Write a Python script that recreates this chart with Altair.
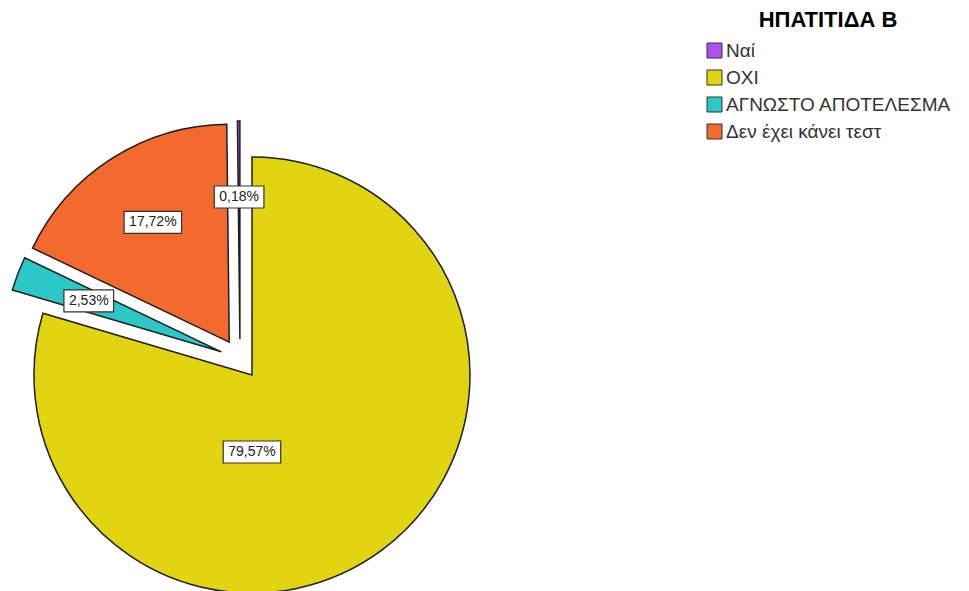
import altair as alt
import pandas as pd

categories = ["Ναί", "ΟΧΙ", "ΑΓΝΩΣΤΟ ΑΠΟΤΕΛΕΣΜΑ", "Δεν έχει κάνει τεστ"]
percents = [0.18, 79.57, 2.53, 17.72]
colors = ["#B04FEF", "#E1D410", "#2CC8C8", "#F26A2D"]
# clockwise drawing position of each category, starting at 12 o'clock
pie_order = [3, 0, 1, 2]

df = pd.DataFrame({"cat": categories, "pct": percents, "ord": pie_order})

CX, CY, R, EXPLODE = 232, 351, 218, 20
FS, PAD, BH = 14, 5, 22

base = (
    alt.Chart(df)
    .transform_joinaggregate(total="sum(pct)")
    .transform_window(cum="sum(pct)", sort=[alt.SortField("ord", order="ascending")], frame=[None, 0])
    .transform_calculate(
        t1="datum.cum / datum.total * 2 * PI",
        t0="(datum.cum - datum.pct) / datum.total * 2 * PI",
    )
    .transform_calculate(mid="(datum.t0 + datum.t1) / 2")
    .transform_calculate(
        cx=f"{CX} + {EXPLODE} * sin(datum.mid)",
        cy=f"{CY} - {EXPLODE} * cos(datum.mid)",
        la="datum.pct / datum.total > 0.5 ? PI : datum.mid",
        ld="datum.pct / datum.total > 0.5 ? 77 : 142",
    )
    .transform_calculate(
        lx="datum.cx + datum.ld * sin(datum.la)",
        ly="datum.cy - datum.ld * cos(datum.la)",
        lbl="replace(format(datum.pct, '.2f'), '.', ',') + '%'",
    )
    .transform_calculate(
        bw=f"(length(datum.lbl) - 2) * 0.556 * {FS} + 1.167 * {FS} + 2 * {PAD}",
    )
    .transform_calculate(
        bx0="datum.lx - datum.bw / 2",
        bx1="datum.lx + datum.bw / 2",
        by0=f"datum.ly - {BH} / 2",
        by1=f"datum.ly + {BH} / 2",
    )
)

arcs = base.mark_arc(radius=R, stroke="#1e1e1e", strokeWidth=1.5).encode(
    x=alt.X("cx:Q", scale=None, axis=None),
    y=alt.Y("cy:Q", scale=None, axis=None),
    theta=alt.Theta("t0:Q", scale=None, stack=None),
    theta2="t1:Q",
    color=alt.Color(
        "cat:N",
        scale=alt.Scale(domain=categories, range=colors),
        legend=alt.Legend(
            title="ΗΠΑΤΙΤΙΔΑ Β",
            orient="none",
            legendX=697,
            legendY=2,
            padding=0,
            titleFontSize=22,
            titleFont="Liberation Sans",
            titleFontWeight="bold",
            titleAnchor="middle",
            titleColor="black",
            titlePadding=9,
            labelFontSize=19,
            labelFont="Liberation Sans",
            labelColor="#333333",
            labelOffset=2,
            labelLimit=400,
            symbolType="square",
            symbolSize=225,
            symbolStrokeColor="#333333",
            symbolStrokeWidth=1,
            symbolOpacity=1,
            rowPadding=7,
        ),
    ),
)

boxes = base.mark_rect(fill="white", stroke="#333333", strokeWidth=1.2).encode(
    x=alt.X("bx0:Q", scale=None, axis=None),
    x2="bx1:Q",
    y=alt.Y("by0:Q", scale=None, axis=None),
    y2="by1:Q",
)

labels = base.mark_text(fontSize=FS, font="Liberation Sans", color="#222222").encode(
    x=alt.X("lx:Q", scale=None, axis=None),
    y=alt.Y("ly:Q", scale=None, axis=None),
    text="lbl:N",
)

chart = (
    alt.layer(arcs, boxes, labels)
    .properties(width=953, height=583, autosize=alt.AutoSizeParams(type="none"), padding=0)
    .configure_view(stroke=None)
)

chart.save("out.html", embed_options={"renderer": "svg", "actions": False})
